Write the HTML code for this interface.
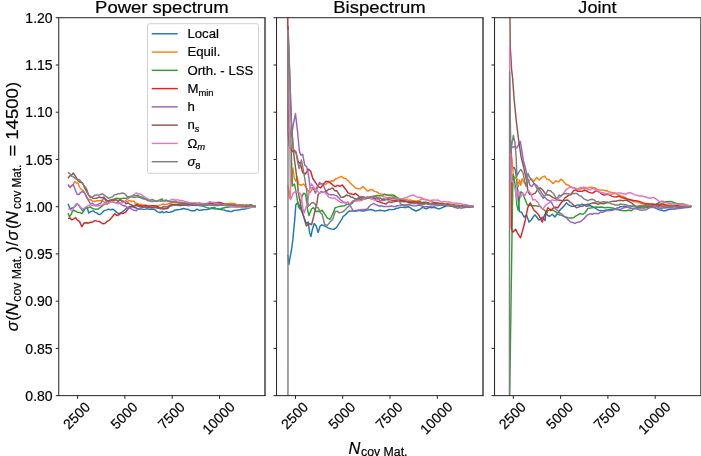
<!DOCTYPE html><html><head><meta charset="utf-8"><style>html,body{margin:0;padding:0;background:#fff;overflow:hidden}svg{display:block;will-change:transform}text{font-family:"Liberation Sans",sans-serif;fill:#000;stroke:#000;stroke-width:0.2px}.i{font-style:italic}</style></head><body>
<svg width="701" height="456" viewBox="0 0 701 456">
<rect width="701" height="456" fill="#fff"/>
<defs>
<clipPath id="c0"><rect x="58.75" y="17.73" width="206.25" height="377.91999999999996"/></clipPath>
<clipPath id="c1"><rect x="276.55" y="17.73" width="206.45" height="377.91999999999996"/></clipPath>
<clipPath id="c2"><rect x="494.55" y="17.73" width="206.45" height="377.91999999999996"/></clipPath>
</defs>
<g clip-path="url(#c0)" fill="none" stroke-width="1.45" stroke-linejoin="round" stroke-linecap="butt">
<path d="M67.98,203.75 L70.28,209.12 L71.82,208.17 L73.35,207.59 L75.27,206.04 L77.19,203.75 L78.98,205.90 L80.77,208.14 L82.56,210.66 L84.87,208.49 L87.17,207.59 L88.70,212.96 L91.01,211.67 L93.31,210.66 L95.04,212.33 L96.76,212.85 L98.49,214.19 L100.22,214.50 L102.14,212.73 L104.05,210.66 L106.36,210.13 L108.66,209.12 L110.71,209.74 L112.75,209.20 L114.80,210.66 L117.10,212.67 L119.41,213.73 L121.45,212.47 L123.50,210.92 L125.55,209.12 L127.59,207.49 L129.64,206.71 L131.69,206.82 L133.61,206.97 L135.53,207.75 L137.44,208.69 L139.36,209.12 L141.41,209.10 L143.46,209.36 L145.50,209.12 L147.42,208.85 L149.34,209.26 L151.26,209.29 L153.18,209.12 L155.23,209.88 L157.27,211.85 L159.32,212.20 L160.00,212.75 L162.39,211.43 L163.14,212.75 L164.71,212.37 L166.28,211.58 L167.85,212.39 L169.42,212.36 L170.98,211.76 L172.55,211.58 L174.12,210.55 L175.69,210.01 L177.65,209.70 L179.61,209.61 L181.58,208.99 L183.54,208.44 L185.50,209.01 L187.46,209.22 L189.42,210.07 L191.38,210.79 L192.95,210.68 L194.52,210.79 L196.88,209.22 L199.23,210.40 L201.94,209.96 L202.37,210.01 L204.72,209.60 L207.08,209.61 L207.93,209.21 L209.47,208.71 L211.00,208.44 L212.43,208.46 L214.30,208.92 L216.17,208.65 L218.04,209.08 L219.91,209.21 L221.91,209.80 L223.91,209.87 L225.91,210.71 L227.90,210.97 L229.90,211.50 L231.90,211.46 L233.89,210.50 L235.89,210.38 L237.89,209.96 L239.89,209.68 L241.88,209.27 L243.88,209.21 L245.88,208.82 L247.87,208.20 L249.87,207.71 L251.78,206.98 L253.69,207.09 L255.60,206.50" stroke="#1f77b4"/>
<path d="M67.98,184.56 L70.28,187.63 L72.58,185.05 L74.89,181.49 L76.42,182.94 L77.96,183.03 L79.49,187.11 L81.03,189.17 L83.33,190.70 L85.12,194.02 L86.91,196.92 L88.70,199.91 L90.75,199.57 L92.80,201.34 L94.84,201.45 L96.89,200.81 L98.94,200.65 L100.98,200.68 L103.03,201.19 L105.08,202.66 L107.12,204.52 L109.43,201.91 L111.73,199.91 L113.65,200.45 L115.57,198.40 L117.49,198.54 L119.41,199.15 L121.45,200.04 L123.50,201.44 L125.55,201.45 L127.59,201.74 L129.64,200.49 L131.69,201.45 L133.61,200.99 L135.53,203.16 L137.44,203.40 L139.36,204.52 L141.41,204.27 L143.46,205.47 L145.50,205.29 L147.42,205.95 L149.34,205.74 L151.26,205.96 L153.18,206.05 L155.10,205.92 L157.02,206.07 L158.94,205.37 L160.86,204.83 L163.00,204.00 L164.50,204.44 L166.00,204.50 L168.60,203.70 L170.20,203.54 L171.80,203.00 L173.75,202.24 L175.70,202.50 L178.00,203.00 L179.75,203.51 L181.50,203.53 L183.25,203.53 L185.00,203.50 L186.75,202.88 L188.50,203.18 L190.25,203.49 L192.00,203.20 L194.00,202.96 L196.00,203.56 L198.00,204.03 L200.00,204.00 L202.00,203.60 L204.00,204.16 L206.00,203.82 L208.00,203.60 L210.00,203.79 L212.00,204.12 L214.00,204.42 L216.00,204.50 L218.00,204.35 L220.00,204.41 L222.00,203.83 L224.00,203.80 L226.00,203.61 L228.00,203.83 L230.00,203.51 L232.00,203.40 L234.00,203.50 L236.00,204.21 L238.00,204.63 L240.00,204.60 L241.75,204.65 L243.50,204.59 L245.25,205.02 L247.00,205.20 L248.72,205.43 L250.44,205.65 L252.16,206.30 L253.88,206.01 L255.60,206.50" stroke="#ff7f0e"/>
<path d="M67.98,212.96 L69.51,216.80 L71.05,214.66 L72.58,210.66 L74.89,210.51 L77.19,212.20 L79.49,212.41 L81.79,213.73 L83.71,211.09 L85.63,207.59 L87.94,207.96 L90.24,206.82 L92.54,208.53 L94.84,209.12 L96.38,209.34 L97.91,209.12 L99.96,207.68 L102.01,206.15 L104.05,204.52 L106.10,203.33 L108.15,201.35 L110.20,199.91 L112.24,199.56 L114.29,199.21 L116.34,198.38 L118.38,198.38 L120.43,198.79 L122.48,198.38 L124.52,198.16 L126.57,198.39 L128.62,196.84 L130.46,196.70 L132.30,196.02 L134.14,195.74 L135.99,195.61 L137.83,195.31 L139.87,196.76 L141.92,197.20 L143.97,198.38 L146.02,199.06 L148.06,200.19 L150.11,199.91 L152.16,199.37 L154.20,200.48 L156.25,201.45 L158.12,200.72 L160.00,199.81 L162.35,199.02 L162.39,200.22 L164.33,200.36 L166.28,200.20 L167.85,201.07 L169.42,201.77 L170.98,201.43 L172.55,201.38 L174.12,201.79 L175.69,201.77 L177.26,202.25 L178.83,202.55 L181.18,202.59 L183.54,202.95 L185.89,204.01 L188.25,203.73 L190.60,204.02 L192.95,204.12 L195.31,204.58 L197.66,205.30 L200.01,205.67 L202.37,206.08 L204.72,206.82 L207.08,207.65 L208.64,208.03 L210.21,208.44 L212.43,207.71 L214.30,207.47 L216.17,208.35 L218.04,209.06 L219.91,209.21 L222.16,208.20 L224.41,207.71 L226.28,207.32 L228.15,207.18 L230.02,206.78 L231.90,206.21 L233.77,206.74 L235.64,206.20 L237.51,206.69 L239.39,206.96 L241.13,206.51 L242.88,206.35 L244.63,206.08 L246.38,204.86 L248.12,205.33 L249.87,204.71 L251.78,204.98 L253.69,206.06 L255.60,206.50" stroke="#2ca02c"/>
<path d="M67.98,218.34 L69.90,218.00 L71.82,219.87 L73.74,218.85 L75.65,217.57 L77.57,220.34 L79.49,221.41 L81.79,226.78 L84.10,222.94 L86.40,222.84 L88.70,222.94 L90.75,222.30 L92.80,221.92 L94.84,220.64 L97.15,221.11 L99.45,221.41 L100.98,222.50 L102.52,223.71 L104.82,223.48 L107.12,221.41 L109.43,220.10 L111.73,217.57 L113.27,215.48 L114.80,213.73 L117.10,215.63 L119.41,214.50 L121.45,213.12 L123.50,213.44 L125.55,212.20 L127.85,209.37 L130.15,206.82 L132.20,206.12 L134.25,205.63 L136.29,204.52 L138.34,205.13 L140.39,205.84 L142.43,206.05 L144.35,205.38 L146.27,205.40 L148.19,206.32 L150.11,206.05 L152.16,205.66 L154.20,205.64 L156.25,206.05 L158.12,206.67 L160.00,208.44 L162.35,208.83 L162.39,208.82 L163.94,209.09 L165.49,208.44 L167.85,208.44 L170.20,205.30 L172.16,205.35 L174.12,204.91 L176.48,205.18 L178.83,204.51 L181.18,204.24 L183.54,204.51 L185.89,204.71 L188.25,204.91 L190.60,204.42 L192.95,204.51 L195.31,204.90 L197.66,204.91 L200.01,205.07 L202.37,204.51 L204.72,204.12 L207.08,204.12 L207.93,203.22 L210.21,203.34 L212.07,203.25 L213.92,202.47 L215.92,202.69 L217.92,202.43 L219.91,202.47 L222.16,203.15 L224.41,204.71 L226.28,205.22 L228.15,205.07 L230.02,205.14 L231.90,205.46 L233.77,205.74 L235.64,205.93 L237.51,206.36 L239.39,206.21 L241.26,206.17 L243.13,206.84 L245.00,207.11 L246.88,206.96 L248.62,207.20 L250.37,206.74 L252.11,206.52 L253.86,206.82 L255.60,206.50" stroke="#d62728"/>
<path d="M67.98,184.56 L69.51,186.87 L71.43,185.80 L73.35,184.56 L75.27,189.64 L77.19,194.54 L78.98,194.52 L80.77,192.31 L82.56,191.47 L84.87,193.36 L87.17,198.38 L88.70,200.81 L90.24,203.75 L92.54,203.31 L94.84,205.29 L96.89,205.04 L98.94,203.95 L100.98,202.98 L102.52,199.92 L104.05,197.61 L105.59,200.29 L107.12,202.98 L109.43,202.70 L111.73,201.45 L113.65,201.88 L115.57,202.96 L117.49,202.57 L119.41,202.98 L121.45,204.56 L123.50,205.82 L125.55,206.05 L127.59,207.90 L129.64,207.76 L131.69,209.12 L133.99,210.32 L136.29,210.66 L138.34,208.76 L140.39,208.12 L142.43,207.59 L144.35,206.72 L146.27,208.06 L148.19,207.06 L150.11,207.59 L152.16,207.58 L154.20,207.51 L156.25,207.59 L158.55,208.19 L160.86,208.82 L163.00,206.50 L164.50,206.49 L166.00,206.90 L167.70,206.38 L169.40,205.70 L171.27,206.14 L173.13,205.38 L175.00,205.20 L176.75,205.32 L178.50,205.41 L180.25,204.99 L182.00,205.00 L184.00,204.79 L186.00,205.15 L188.00,205.74 L190.00,205.60 L192.00,205.08 L194.00,205.25 L196.00,205.54 L198.00,205.20 L200.00,205.33 L202.00,205.10 L204.00,205.23 L206.00,205.00 L208.00,205.19 L210.00,205.03 L212.00,205.10 L214.00,205.60 L216.00,205.38 L218.00,205.66 L220.00,205.25 L222.00,205.30 L224.00,205.27 L226.00,205.48 L228.00,205.48 L230.00,206.00 L232.00,206.12 L234.00,206.03 L236.00,206.53 L238.00,206.60 L240.00,205.97 L242.00,206.47 L244.00,206.16 L246.00,206.20 L247.92,205.82 L249.84,206.48 L251.76,206.32 L253.68,205.94 L255.60,206.50" stroke="#9467bd"/>
<path d="M67.98,178.42 L69.77,175.98 L71.56,175.05 L73.35,173.05 L75.65,176.56 L77.96,180.72 L80.26,182.42 L82.56,183.03 L84.61,187.63 L86.66,191.66 L88.70,195.31 L90.75,196.55 L92.80,198.22 L94.84,198.38 L97.15,198.03 L99.45,196.84 L101.50,197.89 L103.54,197.12 L105.59,199.15 L107.12,200.44 L108.66,200.68 L110.58,201.25 L112.50,200.13 L114.42,199.84 L116.34,199.91 L118.25,201.36 L120.17,199.73 L122.09,201.31 L124.01,201.45 L126.06,203.72 L128.11,203.02 L130.15,204.52 L132.07,205.24 L133.99,206.20 L135.91,205.61 L137.83,206.05 L139.87,206.57 L141.92,206.98 L143.97,206.82 L145.81,206.58 L147.65,207.09 L149.49,207.41 L151.34,207.78 L153.18,207.59 L155.10,207.65 L157.02,207.67 L158.94,207.43 L160.86,207.90 L162.87,207.93 L164.89,208.55 L166.90,208.40 L168.55,206.89 L170.20,205.30 L172.10,204.62 L174.00,204.50 L176.00,204.43 L178.00,204.90 L179.83,205.71 L181.67,205.24 L183.50,204.90 L185.67,204.88 L187.83,203.80 L190.00,204.30 L191.75,204.58 L193.50,204.67 L195.25,205.08 L197.00,204.80 L198.75,204.70 L200.50,204.38 L202.25,204.32 L204.00,204.00 L205.75,203.36 L207.50,203.83 L209.25,203.47 L211.00,203.20 L212.75,203.19 L214.50,203.80 L216.25,204.06 L218.00,203.80 L220.00,203.63 L222.00,203.95 L224.00,204.32 L226.00,204.40 L228.00,204.59 L230.00,204.61 L232.00,204.63 L234.00,205.00 L236.00,205.68 L238.00,205.63 L240.00,205.33 L242.00,205.80 L243.75,205.60 L245.50,206.38 L247.25,206.32 L249.00,206.20 L251.20,206.71 L253.40,206.58 L255.60,206.50" stroke="#8c564b"/>
<path d="M67.98,209.12 L69.90,209.25 L71.82,210.66 L73.61,208.55 L75.40,204.50 L77.19,203.75 L78.98,205.02 L80.77,207.29 L82.56,209.12 L84.87,207.95 L87.17,206.05 L89.47,205.19 L91.77,205.29 L93.82,205.46 L95.87,206.09 L97.91,206.05 L99.96,205.52 L102.01,204.91 L104.05,203.75 L105.97,203.30 L107.89,202.41 L109.81,202.48 L111.73,201.45 L113.78,202.24 L115.82,202.52 L117.87,203.75 L119.92,202.90 L121.96,202.73 L124.01,202.22 L126.06,200.37 L128.11,198.71 L130.15,196.84 L132.20,195.56 L134.25,194.37 L136.29,193.01 L138.34,193.71 L140.39,193.96 L142.43,195.31 L144.35,196.65 L146.27,198.07 L148.19,198.95 L150.11,199.91 L152.16,200.35 L154.20,201.12 L156.25,201.45 L158.30,200.97 L160.34,200.52 L162.39,201.14 L164.21,201.11 L166.03,200.70 L167.85,200.98 L169.81,200.45 L171.77,199.42 L173.73,199.45 L175.69,200.20 L177.65,199.58 L179.61,200.59 L181.58,200.48 L183.54,200.98 L185.11,201.82 L186.68,201.77 L188.25,202.45 L189.81,203.34 L191.38,202.79 L192.95,202.95 L194.52,202.76 L196.09,202.95 L197.66,202.87 L199.23,202.55 L200.80,203.25 L202.37,203.73 L203.94,203.97 L205.51,204.12 L207.47,203.25 L209.43,201.72 L210.21,201.77 L211.89,202.29 L213.57,202.49 L215.24,202.99 L216.92,203.22 L218.79,203.96 L220.66,204.18 L222.54,204.57 L224.41,204.71 L226.28,205.03 L228.15,205.80 L230.02,206.56 L231.90,206.96 L233.77,206.89 L235.64,207.20 L237.51,207.10 L239.39,206.96 L241.26,207.35 L243.13,207.29 L245.00,208.10 L246.88,207.71 L248.62,207.75 L250.37,207.18 L252.11,207.00 L253.86,207.33 L255.60,206.50" stroke="#e377c2"/>
<path d="M67.98,172.28 L69.77,173.56 L71.56,175.99 L73.35,176.89 L75.27,178.74 L77.19,179.19 L79.11,179.52 L81.03,181.49 L82.82,183.92 L84.61,186.34 L86.40,188.40 L88.32,193.76 L90.24,197.61 L92.54,196.97 L94.84,195.31 L96.76,194.94 L98.68,195.07 L100.60,194.49 L102.52,193.77 L104.57,195.43 L106.61,196.88 L108.66,198.38 L110.58,197.28 L112.50,196.85 L114.42,194.91 L116.34,194.54 L118.38,193.69 L120.43,193.52 L122.48,193.01 L124.52,193.78 L126.57,195.85 L128.62,197.61 L130.46,196.46 L132.30,196.97 L134.14,197.43 L135.99,197.27 L137.83,196.84 L139.87,197.59 L141.92,198.27 L143.97,199.15 L145.81,198.99 L147.65,200.85 L149.49,200.75 L151.34,201.44 L153.18,201.45 L155.15,200.97 L157.12,201.12 L159.09,200.37 L161.06,201.23 L163.03,201.15 L165.00,200.68 L166.67,200.28 L168.33,201.21 L170.00,201.50 L172.00,201.96 L174.00,201.43 L176.00,201.67 L178.00,202.50 L180.00,202.35 L182.00,202.67 L184.00,202.62 L186.00,203.20 L187.80,203.37 L189.60,203.59 L191.40,203.84 L193.20,204.01 L195.00,204.00 L197.00,204.48 L199.00,204.51 L201.00,204.08 L203.00,204.50 L204.75,204.41 L206.50,204.31 L208.25,204.33 L210.00,204.60 L212.00,204.68 L214.00,204.80 L216.00,205.01 L218.00,205.00 L220.00,204.69 L222.00,204.82 L224.00,205.14 L226.00,205.20 L228.00,205.11 L230.00,205.03 L232.00,205.04 L234.00,205.00 L235.75,204.98 L237.50,205.46 L239.25,205.53 L241.00,205.60 L242.75,205.68 L244.50,205.65 L246.25,205.86 L248.00,206.00 L249.90,205.51 L251.80,206.03 L253.70,206.38 L255.60,206.50" stroke="#7f7f7f"/>
</g>
<g clip-path="url(#c1)" fill="none" stroke-width="1.45" stroke-linejoin="round" stroke-linecap="butt">
<path d="M287.95,255.00 L288.90,264.50 L290.00,258.00 L291.50,250.00 L292.80,240.00 L294.70,220.00 L295.79,205.00 L297.76,202.37 L299.74,206.32 L301.71,211.58 L304.34,218.16 L306.32,223.42 L308.29,222.11 L309.61,232.63 L310.92,236.58 L312.24,230.00 L314.21,223.42 L316.18,226.05 L318.16,232.63 L320.13,226.05 L321.78,224.82 L323.42,225.39 L326.05,226.71 L328.03,227.81 L330.00,228.68 L331.97,229.10 L333.95,229.34 L336.58,227.37 L339.21,223.42 L341.54,219.50 L341.84,219.47 L343.07,216.43 L344.47,215.53 L346.14,214.12 L347.11,212.89 L348.93,211.29 L350.75,211.05 L352.28,210.93 L353.82,211.05 L356.12,210.52 L358.42,210.29 L360.72,210.88 L363.03,211.05 L364.56,210.93 L366.10,210.29 L368.40,209.89 L370.70,209.52 L373.00,209.94 L375.31,211.05 L377.61,210.61 L379.91,210.29 L382.21,210.65 L384.52,211.05 L386.82,210.54 L389.12,209.52 L391.43,209.61 L393.73,209.52 L396.03,208.53 L398.33,207.98 L400.38,207.33 L402.43,207.37 L404.47,207.21 L405.00,207.82 L406.67,207.06 L408.34,206.70 L410.01,207.54 L411.68,208.93 L413.90,210.02 L416.13,211.16 L417.80,210.21 L419.47,209.49 L421.13,208.40 L422.80,207.26 L424.47,208.21 L426.14,208.93 L427.81,208.00 L429.48,207.26 L431.70,207.78 L433.93,207.26 L436.16,208.02 L438.38,208.93 L440.61,208.34 L442.83,207.26 L445.06,206.45 L447.28,205.59 L449.14,205.84 L450.99,205.06 L452.85,205.59 L454.79,205.56 L456.74,205.93 L458.69,206.14 L460.63,206.15 L462.46,206.72 L464.28,206.32 L466.11,206.59 L467.93,206.52 L469.75,206.61 L471.58,206.56 L473.40,206.50" stroke="#1f77b4"/>
<path d="M287.95,185.00 L289.30,198.00 L291.50,180.00 L293.00,168.00 L294.26,178.45 L295.68,181.30 L297.11,177.03 L298.53,184.15 L301.05,185.26 L303.68,183.95 L306.32,187.89 L307.96,190.42 L309.61,193.16 L311.25,190.85 L312.89,187.89 L315.53,189.21 L318.16,185.26 L320.13,183.95 L322.11,183.95 L324.08,184.65 L326.05,183.95 L328.03,182.04 L330.00,181.32 L331.76,180.74 L333.51,181.06 L335.27,179.05 L337.03,178.45 L339.16,177.39 L341.30,176.31 L343.44,177.98 L345.58,178.45 L347.68,180.35 L349.98,182.67 L352.28,184.96 L353.82,186.11 L355.35,188.03 L357.65,188.53 L359.96,188.79 L361.49,187.90 L363.03,186.49 L365.33,189.10 L367.63,191.10 L369.93,190.01 L372.24,189.56 L374.54,191.40 L376.84,191.86 L379.14,193.64 L381.45,194.17 L383.75,194.56 L386.05,194.93 L388.36,195.41 L390.66,195.70 L392.96,196.33 L395.26,197.24 L397.31,198.43 L399.36,198.56 L401.40,199.54 L403.24,199.83 L405.07,199.60 L406.90,199.65 L408.73,200.12 L410.56,200.03 L412.42,200.72 L414.27,200.77 L416.13,201.14 L417.80,200.71 L419.47,200.58 L421.69,198.92 L423.36,199.38 L425.03,199.47 L427.25,200.02 L429.48,200.58 L431.70,201.49 L433.93,202.25 L436.16,202.87 L438.38,202.81 L440.24,203.25 L442.09,203.06 L443.94,203.37 L445.80,204.07 L447.65,203.74 L449.51,203.92 L451.36,204.47 L453.22,204.52 L455.07,205.04 L457.02,205.16 L458.97,204.92 L460.91,205.85 L462.86,205.59 L464.62,206.05 L466.37,205.62 L468.13,205.71 L469.89,205.83 L471.64,206.61 L473.40,206.50" stroke="#ff7f0e"/>
<path d="M287.95,110.00 L290.80,137.00 L291.50,160.00 L292.00,175.00 L292.40,186.00 L294.47,183.95 L295.79,190.53 L298.42,206.32 L299.74,208.95 L301.71,197.11 L303.68,193.16 L305.66,194.47 L307.63,210.26 L308.95,215.53 L311.58,208.95 L313.55,207.63 L316.18,211.58 L317.83,211.29 L319.47,211.58 L322.11,210.26 L324.74,214.21 L327.37,218.16 L330.00,219.47 L332.63,214.21 L335.26,207.63 L337.02,207.16 L338.77,206.59 L340.53,206.32 L342.57,205.93 L344.61,205.68 L346.91,204.36 L349.21,204.14 L350.75,203.77 L352.28,203.38 L353.82,201.16 L355.35,200.31 L357.40,200.02 L359.44,199.94 L361.49,199.54 L363.54,199.23 L365.58,198.42 L367.63,198.00 L369.17,197.25 L370.70,197.24 L373.00,196.53 L375.31,195.70 L377.61,195.52 L379.91,195.70 L382.21,195.50 L384.52,194.17 L386.82,194.82 L389.12,194.93 L391.04,194.90 L392.96,194.93 L394.88,195.94 L396.80,197.24 L399.10,198.56 L401.40,200.31 L403.46,200.44 L405.51,200.99 L407.57,201.55 L409.62,202.00 L411.68,202.25 L413.35,202.53 L415.01,203.02 L416.68,202.51 L418.35,202.81 L420.02,202.95 L421.69,203.72 L423.36,202.81 L425.03,203.37 L426.70,203.39 L428.37,203.68 L430.04,203.82 L431.70,203.92 L433.37,204.10 L435.04,204.04 L436.71,204.26 L438.38,204.26 L440.05,204.38 L441.72,204.65 L443.39,204.16 L445.06,204.70 L446.73,204.61 L448.40,204.92 L450.06,204.80 L451.73,205.15 L453.51,205.05 L455.29,205.56 L457.07,205.40 L458.85,205.82 L460.63,205.81 L462.46,206.08 L464.28,206.08 L466.11,206.22 L467.93,206.18 L469.75,205.99 L471.58,206.40 L473.40,206.50" stroke="#2ca02c"/>
<path d="M287.60,-40.00 L287.90,60.00 L287.95,130.00 L289.00,145.00 L291.00,150.00 L293.50,152.00 L295.70,151.40 L298.50,162.80 L300.00,162.80 L302.80,172.70 L305.00,174.20 L306.75,172.00 L308.50,169.20 L310.70,171.30 L312.80,178.50 L315.60,182.70 L318.20,186.60 L320.80,187.90 L323.40,184.00 L326.00,181.30 L328.00,181.64 L330.00,182.60 L331.77,183.88 L333.53,185.68 L335.30,186.60 L337.90,185.30 L340.00,186.49 L342.30,184.96 L344.61,188.03 L346.14,189.88 L347.68,192.63 L349.98,193.71 L352.28,194.17 L353.82,194.67 L355.35,193.40 L357.65,195.06 L359.96,197.24 L361.88,197.30 L363.79,197.17 L365.71,197.90 L367.63,197.24 L369.68,197.62 L371.73,198.11 L373.77,198.00 L375.31,199.27 L376.84,201.07 L379.14,201.84 L381.45,202.61 L383.75,203.37 L386.05,204.14 L387.59,202.39 L389.12,201.84 L391.43,202.31 L393.73,201.84 L396.03,201.35 L398.33,200.31 L400.38,200.05 L402.43,201.03 L404.47,201.07 L406.41,201.63 L408.34,202.25 L410.19,202.18 L412.05,201.97 L413.90,201.70 L415.76,201.91 L417.61,202.76 L419.47,203.37 L421.32,203.33 L423.17,202.50 L425.03,202.25 L426.88,202.58 L428.74,203.06 L430.59,203.92 L432.45,203.46 L434.30,203.63 L436.16,203.37 L438.01,204.12 L439.86,204.21 L441.72,204.48 L443.57,204.35 L445.43,204.61 L447.28,203.92 L449.14,204.36 L450.99,204.88 L452.85,205.59 L454.70,205.90 L456.55,206.09 L458.41,206.15 L460.08,206.06 L461.75,206.16 L463.42,206.63 L465.09,206.70 L467.16,206.71 L469.24,206.31 L471.32,206.51 L473.40,206.50" stroke="#d62728"/>
<path d="M291.00,137.00 L292.20,131.30 L293.80,122.00 L295.50,113.60 L297.50,131.30 L299.40,151.00 L300.80,155.00 L302.70,154.30 L304.70,165.00 L306.70,166.70 L308.50,175.40 L310.26,187.89 L312.89,187.89 L315.53,193.16 L318.16,185.26 L319.47,182.63 L321.45,183.62 L323.42,185.26 L326.05,191.84 L328.68,194.47 L330.66,194.74 L332.63,194.47 L334.61,195.07 L336.58,195.79 L338.55,197.72 L340.53,199.74 L343.07,201.84 L345.79,202.37 L347.68,202.61 L349.21,204.35 L350.75,206.45 L352.28,209.26 L353.82,211.05 L356.12,211.32 L358.42,210.29 L360.72,209.74 L363.03,209.52 L365.33,209.50 L367.63,208.75 L369.17,206.52 L370.70,204.91 L372.24,204.17 L373.77,203.38 L375.31,204.44 L376.84,204.91 L378.89,205.99 L380.94,205.79 L382.98,206.45 L385.03,206.42 L387.08,206.51 L389.12,206.45 L391.17,205.96 L393.22,206.45 L395.26,206.45 L397.31,205.73 L399.36,205.53 L401.40,204.91 L403.20,205.21 L405.00,206.15 L407.23,205.07 L409.45,205.04 L411.31,205.42 L413.16,205.84 L415.01,206.15 L417.24,205.47 L419.47,205.04 L421.69,206.07 L423.92,206.70 L426.14,206.64 L428.37,206.70 L430.59,206.29 L432.82,206.15 L434.67,206.07 L436.53,205.42 L438.38,205.59 L440.24,205.25 L442.09,205.22 L443.94,205.04 L445.80,205.41 L447.65,205.37 L449.51,205.59 L451.18,206.22 L452.85,206.56 L454.51,207.33 L456.18,207.82 L457.85,208.19 L459.52,207.66 L461.19,208.35 L462.86,207.82 L464.62,207.45 L466.37,207.38 L468.13,207.20 L469.89,207.17 L471.64,206.44 L473.40,206.50" stroke="#9467bd"/>
<path d="M288.10,26.00 L291.30,120.00 L292.00,128.00 L293.00,148.00 L294.50,160.00 L297.11,180.00 L298.42,193.16 L301.05,206.32 L303.68,216.84 L306.32,226.05 L308.95,223.42 L311.58,224.74 L314.21,214.21 L316.84,203.68 L318.16,194.47 L319.47,193.16 L321.23,191.45 L322.98,192.64 L324.74,191.84 L326.71,190.99 L328.68,189.21 L330.66,188.91 L332.63,187.89 L334.61,190.66 L336.58,190.53 L338.29,193.22 L340.00,195.70 L340.53,197.11 L343.07,197.24 L345.79,195.79 L346.14,194.93 L347.68,195.45 L349.21,195.70 L350.75,196.92 L352.28,197.24 L353.82,198.18 L355.35,198.77 L357.65,199.15 L359.96,198.00 L362.26,197.84 L364.56,198.77 L366.61,198.61 L368.65,197.34 L370.70,198.77 L372.75,198.84 L374.80,198.11 L376.84,198.00 L378.38,198.35 L379.91,198.00 L381.96,199.30 L384.01,199.03 L386.05,199.54 L388.10,199.71 L390.15,199.89 L392.19,200.31 L394.24,200.30 L396.29,200.63 L398.33,201.07 L400.38,201.52 L402.43,201.60 L404.47,201.84 L406.41,201.51 L408.34,201.14 L410.19,201.47 L412.05,202.11 L413.90,202.25 L415.76,202.18 L417.61,201.85 L419.47,201.70 L421.32,202.22 L423.17,202.41 L425.03,202.81 L426.88,202.74 L428.74,203.51 L430.59,203.37 L432.45,203.29 L434.30,202.78 L436.16,202.81 L438.01,203.42 L439.86,203.63 L441.72,203.92 L443.57,203.94 L445.43,205.03 L447.28,205.04 L449.14,205.48 L450.99,205.98 L452.85,206.15 L454.70,206.38 L456.55,206.49 L458.41,206.70 L460.08,206.30 L461.75,206.81 L463.42,206.54 L465.09,206.48 L467.16,206.42 L469.24,206.57 L471.32,206.51 L473.40,206.50" stroke="#8c564b"/>
<path d="M288.00,30.00 L289.60,125.00 L290.50,199.70 L291.84,197.11 L293.16,193.16 L295.13,191.84 L296.78,192.32 L298.42,191.84 L301.05,194.47 L303.03,208.95 L304.34,212.89 L306.32,206.32 L308.29,197.11 L310.26,186.58 L311.58,183.95 L314.21,187.89 L316.84,190.53 L319.47,193.16 L322.11,191.84 L324.74,192.50 L326.71,194.59 L328.68,197.11 L330.66,197.74 L332.63,198.42 L334.61,197.90 L336.58,199.74 L338.55,200.83 L340.53,202.37 L342.57,202.84 L344.61,202.61 L345.79,203.68 L347.68,201.84 L349.21,203.27 L350.75,203.38 L352.28,201.07 L354.58,200.90 L356.89,201.07 L358.93,200.51 L360.98,200.76 L363.03,199.54 L365.33,197.86 L367.63,196.47 L369.93,197.92 L372.24,198.77 L374.54,200.20 L376.84,200.31 L379.14,198.02 L381.45,195.70 L383.75,196.91 L386.05,197.24 L388.36,197.38 L390.66,198.00 L392.96,198.07 L395.26,198.00 L397.31,198.24 L399.36,198.55 L401.40,198.77 L403.20,198.60 L405.00,197.80 L406.67,197.88 L408.34,196.69 L410.56,195.69 L412.79,195.02 L414.46,195.72 L416.13,196.69 L417.98,197.17 L419.84,197.19 L421.69,197.80 L423.36,198.75 L425.03,199.47 L427.25,200.16 L429.48,200.58 L431.70,200.24 L433.93,200.03 L435.60,200.15 L437.27,200.03 L438.94,200.51 L440.61,201.70 L442.46,201.87 L444.32,201.35 L446.17,201.70 L448.02,201.91 L449.88,202.31 L451.73,202.81 L453.40,202.86 L455.07,203.28 L456.74,203.25 L458.41,203.37 L460.08,203.56 L461.75,204.05 L463.42,204.56 L465.09,204.48 L467.16,204.99 L469.24,205.57 L471.32,206.27 L473.40,206.50" stroke="#e377c2"/>
<path d="M287.95,700.00 L288.00,30.00 L291.60,128.70 L293.50,149.70 L295.00,150.70 L296.40,154.20 L297.80,162.80 L299.20,168.50 L301.40,159.90 L302.80,167.00 L305.00,179.90 L306.32,187.89 L308.29,206.32 L309.93,204.85 L311.58,203.03 L313.22,202.54 L314.87,203.68 L316.51,207.21 L318.16,207.63 L320.13,212.27 L322.11,214.21 L324.74,224.74 L327.37,225.39 L330.00,222.11 L332.63,219.47 L335.26,211.58 L337.24,211.16 L339.21,212.89 L341.14,212.34 L343.07,211.82 L343.16,211.58 L344.65,210.38 L346.14,208.75 L347.11,207.63 L349.21,205.68 L350.75,204.23 L352.28,201.84 L353.82,201.01 L355.35,199.54 L357.40,198.39 L359.44,197.01 L361.49,196.47 L363.03,196.90 L364.56,197.24 L366.10,198.06 L367.63,198.00 L369.68,197.04 L371.73,196.57 L373.77,196.47 L375.31,196.84 L376.84,197.24 L378.38,198.42 L379.91,201.07 L382.21,200.60 L384.52,200.31 L386.82,199.01 L389.12,198.00 L391.43,198.15 L393.73,198.00 L396.03,198.94 L398.33,200.31 L399.87,202.35 L401.40,204.91 L403.71,204.80 L406.01,204.91 L407.73,204.40 L409.45,203.92 L411.12,203.62 L412.79,203.65 L414.46,203.68 L416.13,203.37 L417.80,203.91 L419.47,204.31 L421.13,204.02 L422.80,204.48 L424.47,204.25 L426.14,203.64 L427.81,204.49 L429.48,203.92 L431.15,203.90 L432.82,204.19 L434.49,204.46 L436.16,204.48 L437.82,204.23 L439.49,204.69 L441.16,204.64 L442.83,204.70 L444.50,204.46 L446.17,205.10 L447.84,205.47 L449.51,205.37 L451.18,205.06 L452.85,205.77 L454.51,205.75 L456.18,205.81 L457.96,206.01 L459.74,206.09 L461.52,206.37 L463.31,206.12 L465.09,206.26 L467.16,206.52 L469.24,206.29 L471.32,206.60 L473.40,206.50" stroke="#7f7f7f"/>
</g>
<g clip-path="url(#c2)" fill="none" stroke-width="1.45" stroke-linejoin="round" stroke-linecap="butt">
<path d="M509.80,135.00 L512.00,165.00 L512.90,168.20 L514.21,167.50 L515.53,170.79 L516.84,181.32 L518.16,197.11 L519.47,211.58 L521.74,212.46 L524.15,217.29 L526.57,214.88 L528.99,222.13 L531.40,219.71 L533.21,216.78 L535.02,214.88 L536.84,217.23 L538.65,219.71 L540.46,219.54 L542.27,217.29 L545.00,220.61 L545.89,212.46 L547.14,214.91 L549.28,216.34 L550.70,215.52 L552.13,214.20 L553.56,215.54 L554.98,217.05 L556.41,214.65 L557.83,213.48 L559.26,210.93 L560.69,209.21 L562.11,207.88 L563.54,206.35 L564.96,205.05 L566.39,202.79 L568.17,204.42 L569.96,205.64 L571.74,206.25 L573.52,206.35 L575.66,205.62 L577.80,204.93 L579.94,205.17 L582.08,204.22 L584.22,205.12 L586.35,206.35 L588.49,205.77 L590.63,205.64 L592.77,207.06 L594.91,207.78 L597.05,209.23 L599.19,210.63 L601.33,210.53 L603.47,210.63 L605.61,210.08 L607.75,209.92 L609.65,209.60 L611.55,209.64 L613.45,209.21 L615.35,208.84 L617.25,207.90 L619.15,207.78 L620.00,206.82 L622.28,206.65 L624.56,206.25 L626.85,206.86 L629.13,207.39 L631.41,206.58 L633.69,206.25 L635.98,206.99 L638.26,207.39 L640.54,207.04 L642.82,206.82 L644.54,206.60 L646.25,206.71 L647.96,206.69 L649.67,206.25 L651.95,206.66 L654.24,207.39 L656.52,208.63 L658.80,209.67 L661.08,210.05 L663.37,210.81 L665.65,210.76 L667.93,209.67 L670.21,209.28 L672.50,209.10 L674.78,209.08 L677.06,208.53 L679.34,207.81 L681.63,207.39 L683.91,207.57 L686.19,207.39 L687.89,207.59 L689.60,206.22 L691.30,206.50" stroke="#1f77b4"/>
<path d="M509.80,140.00 L513.50,176.00 L514.90,177.40 L516.84,178.68 L518.16,186.58 L519.47,180.00 L520.79,185.26 L522.11,178.68 L523.42,181.32 L526.05,185.26 L528.68,181.32 L531.32,178.68 L533.95,181.32 L536.58,177.37 L539.21,180.00 L541.84,177.37 L544.47,176.05 L547.11,179.34 L549.28,179.97 L551.06,181.51 L552.84,183.54 L554.27,182.39 L555.70,180.69 L557.12,181.35 L558.55,182.11 L560.69,179.26 L562.11,179.99 L563.54,181.40 L565.68,184.26 L567.82,184.96 L569.96,186.43 L572.09,187.82 L574.23,187.76 L576.37,189.24 L578.27,189.15 L580.18,187.53 L582.08,187.82 L584.22,188.66 L586.35,188.53 L588.49,187.58 L590.63,187.10 L592.77,187.52 L594.91,187.82 L597.05,189.36 L599.19,189.96 L601.09,190.24 L602.99,189.94 L604.89,190.67 L606.79,190.57 L608.70,192.01 L610.60,192.09 L612.50,192.80 L614.40,192.80 L616.30,193.52 L618.15,194.71 L620.00,195.41 L620.58,195.66 L622.57,196.53 L624.56,197.12 L626.85,198.71 L629.13,199.97 L631.41,200.29 L633.69,201.68 L635.98,201.90 L638.26,202.25 L640.54,203.31 L642.82,203.97 L644.54,204.27 L646.25,204.45 L647.96,203.84 L649.67,204.54 L651.95,204.57 L654.24,204.54 L656.14,204.84 L658.04,205.49 L659.94,205.11 L661.84,204.89 L663.75,205.03 L665.65,205.11 L667.55,205.31 L669.45,205.69 L671.36,205.68 L673.26,205.77 L675.16,206.32 L677.06,206.25 L679.10,206.11 L681.13,206.38 L683.16,206.24 L685.20,206.43 L687.23,206.27 L689.27,206.10 L691.30,206.50" stroke="#ff7f0e"/>
<path d="M509.30,420.00 L512.90,174.70 L514.21,178.68 L515.53,187.89 L516.84,205.00 L518.16,210.26 L519.47,198.42 L520.79,191.84 L522.76,193.16 L524.74,198.42 L527.37,205.00 L530.00,205.00 L532.63,205.66 L535.26,205.66 L537.89,206.32 L540.53,206.32 L542.50,208.94 L544.47,210.26 L547.11,212.89 L547.85,210.63 L549.28,210.09 L550.70,209.21 L552.13,209.61 L553.56,210.63 L554.98,211.46 L556.41,212.06 L557.83,214.01 L559.26,214.91 L561.40,215.12 L563.54,216.34 L565.68,216.99 L567.82,217.76 L569.72,218.02 L571.62,218.01 L573.52,217.76 L575.66,216.18 L577.80,214.91 L579.94,213.62 L582.08,214.20 L583.50,214.02 L584.93,212.77 L586.35,210.77 L587.78,208.49 L589.92,208.14 L592.06,207.78 L594.20,207.32 L596.34,207.07 L598.48,207.17 L600.61,207.07 L602.75,207.27 L604.89,207.78 L606.79,207.44 L608.70,207.54 L610.60,207.78 L612.50,208.07 L614.40,208.54 L616.30,209.21 L618.15,209.39 L620.00,210.24 L622.01,210.63 L624.56,210.81 L626.28,210.69 L627.99,210.24 L629.70,210.21 L631.41,210.81 L633.69,208.53 L635.41,208.39 L637.12,207.96 L639.02,207.73 L640.92,208.04 L642.82,207.96 L644.73,208.08 L646.63,207.63 L648.53,207.39 L650.43,206.46 L652.33,205.88 L654.24,205.11 L655.95,204.28 L657.66,203.40 L659.94,201.68 L661.84,201.29 L663.75,201.55 L665.65,201.68 L667.55,201.72 L669.45,201.58 L671.36,201.68 L673.26,202.27 L675.16,202.99 L677.06,203.40 L678.96,203.76 L680.87,203.98 L682.77,203.97 L685.05,204.54 L687.13,205.32 L689.22,205.78 L691.30,206.50" stroke="#2ca02c"/>
<path d="M509.80,135.00 L511.00,150.00 L511.30,228.00 L512.50,232.00 L513.29,231.79 L515.70,229.37 L518.12,234.20 L520.53,237.83 L522.95,229.37 L525.36,219.71 L527.78,207.63 L530.19,202.80 L532.00,206.41 L533.82,210.05 L535.43,211.49 L537.04,213.08 L538.65,214.88 L540.46,218.39 L542.27,222.13 L544.08,216.28 L545.89,212.46 L547.85,207.78 L549.28,209.02 L550.70,210.63 L552.13,209.19 L553.56,207.78 L555.70,207.25 L557.83,207.78 L559.26,205.63 L560.69,203.50 L562.83,200.91 L564.96,197.80 L567.10,196.29 L569.24,194.95 L571.38,193.80 L573.52,190.67 L575.66,189.82 L577.80,191.38 L579.94,191.29 L582.08,191.38 L584.22,190.25 L586.35,190.67 L588.49,192.14 L590.63,192.81 L592.77,193.14 L594.91,191.38 L597.05,190.80 L599.19,192.09 L601.33,193.57 L603.47,194.95 L605.61,194.77 L607.75,194.23 L609.88,195.20 L612.02,196.37 L614.16,196.90 L616.30,197.09 L618.15,196.16 L620.00,196.55 L622.01,197.80 L624.56,198.26 L626.85,199.05 L629.13,199.40 L631.41,200.06 L633.69,200.54 L635.98,200.83 L638.26,201.11 L640.54,201.84 L642.82,202.82 L645.11,203.54 L647.39,203.97 L649.67,203.86 L651.95,203.97 L654.24,204.30 L656.52,204.54 L658.80,204.14 L661.08,203.97 L663.37,204.03 L665.65,205.11 L667.55,205.10 L669.45,205.15 L671.36,205.11 L673.26,205.47 L675.16,205.29 L677.06,205.68 L678.77,205.81 L680.49,206.10 L682.20,206.14 L683.91,206.25 L685.76,206.59 L687.60,206.82 L689.45,206.23 L691.30,206.50" stroke="#d62728"/>
<path d="M510.60,146.00 L512.70,147.50 L514.50,146.50 L516.50,148.00 L518.50,145.00 L520.30,141.40 L521.90,150.60 L523.40,161.30 L524.08,162.89 L526.05,170.79 L527.37,177.37 L530.00,185.26 L531.97,186.58 L533.95,183.29 L536.58,185.26 L539.21,189.21 L541.84,193.16 L544.47,197.11 L547.11,199.74 L549.28,200.65 L551.42,202.43 L553.56,206.35 L555.70,208.96 L557.83,210.63 L559.97,213.22 L562.11,214.20 L564.25,216.45 L566.39,217.76 L568.53,220.30 L570.67,222.04 L572.81,222.46 L574.95,223.47 L577.09,222.43 L579.22,222.04 L581.36,221.00 L583.50,219.19 L585.64,216.67 L587.78,214.91 L589.92,213.82 L592.06,214.20 L594.20,213.46 L596.34,213.48 L598.48,213.69 L600.61,212.06 L602.75,212.38 L604.89,211.35 L606.79,210.88 L608.70,210.63 L610.60,210.63 L612.50,210.23 L614.40,209.45 L616.30,209.21 L618.15,209.82 L620.00,209.67 L621.71,208.79 L623.42,207.96 L625.71,207.39 L627.99,207.39 L630.27,208.28 L632.55,208.53 L634.84,208.68 L637.12,209.10 L639.40,209.72 L641.68,210.24 L643.97,209.95 L646.25,209.67 L648.53,208.46 L650.81,207.39 L652.72,207.65 L654.62,207.61 L656.52,207.96 L658.80,207.83 L661.08,208.53 L663.37,207.75 L665.65,207.96 L667.55,207.68 L669.45,207.79 L671.36,207.96 L673.26,208.15 L675.16,208.35 L677.06,208.53 L678.96,208.47 L680.87,208.18 L682.77,207.96 L684.90,207.42 L687.03,207.07 L689.17,206.39 L691.30,206.50" stroke="#9467bd"/>
<path d="M509.60,-30.00 L510.20,46.00 L510.90,56.50 L511.60,69.60 L512.50,77.00 L514.20,100.00 L516.50,123.00 L518.80,141.40 L521.10,156.70 L523.60,167.00 L525.16,174.05 L526.71,181.32 L528.03,191.84 L530.00,194.47 L532.63,194.47 L535.26,193.16 L537.89,189.21 L540.53,187.89 L543.16,190.53 L545.79,194.47 L547.53,194.99 L549.28,194.95 L551.42,196.67 L553.56,197.80 L555.70,198.80 L557.83,199.94 L559.97,200.20 L562.11,200.65 L564.01,200.89 L565.92,200.18 L567.82,199.94 L569.96,202.08 L572.09,203.50 L574.23,205.91 L576.37,207.78 L578.51,207.16 L580.65,206.35 L582.79,206.21 L584.93,204.93 L587.07,204.33 L589.21,204.22 L591.35,203.36 L593.48,202.79 L595.62,203.19 L597.76,204.22 L599.90,203.57 L602.04,203.50 L604.18,203.69 L606.32,202.79 L608.22,202.90 L610.12,201.85 L612.02,201.36 L613.92,201.30 L615.83,201.24 L617.73,200.65 L620.00,200.31 L621.71,200.59 L623.42,200.75 L625.14,200.15 L626.85,200.54 L629.13,201.52 L631.41,202.82 L633.12,204.36 L634.84,205.68 L637.12,206.82 L638.83,206.57 L640.54,205.68 L642.82,205.99 L645.11,206.25 L646.82,205.91 L648.53,205.88 L650.24,205.67 L651.95,205.68 L653.86,205.48 L655.76,206.02 L657.66,205.68 L659.56,205.73 L661.46,206.06 L663.37,206.25 L665.27,206.92 L667.17,206.90 L669.07,206.82 L670.97,206.89 L672.88,206.68 L674.78,206.82 L676.68,206.91 L678.58,207.18 L680.49,206.82 L682.29,206.91 L684.09,207.00 L685.89,206.68 L687.70,206.72 L689.50,206.51 L691.30,206.50" stroke="#8c564b"/>
<path d="M509.60,46.00 L509.70,72.00 L510.50,150.00 L511.60,181.30 L512.89,181.32 L514.87,187.89 L516.84,199.74 L518.16,190.53 L519.47,193.16 L520.79,197.11 L522.76,193.16 L524.74,195.79 L526.71,191.84 L528.68,190.53 L531.32,194.47 L532.63,199.74 L535.26,199.74 L537.89,202.37 L540.53,207.63 L543.16,208.95 L545.79,205.00 L547.43,203.80 L549.07,202.84 L550.70,200.65 L552.61,199.86 L554.51,200.62 L556.41,200.65 L557.83,199.35 L559.26,197.80 L561.40,195.36 L563.54,193.52 L564.96,191.23 L566.39,189.24 L568.53,188.20 L570.67,186.39 L572.81,188.05 L574.95,187.82 L577.09,189.17 L579.22,189.96 L581.36,188.67 L583.50,187.10 L585.64,187.52 L587.78,189.24 L589.68,189.79 L591.58,188.80 L593.48,188.53 L595.39,189.70 L597.29,190.49 L599.19,192.09 L601.09,192.55 L602.99,192.66 L604.89,193.52 L606.79,193.78 L608.70,194.15 L610.60,194.23 L612.50,194.01 L614.40,193.84 L616.30,193.52 L618.15,193.07 L620.00,193.12 L620.58,192.81 L622.29,193.69 L624.00,193.60 L625.71,194.27 L627.99,192.95 L630.27,192.55 L632.55,193.65 L634.84,194.84 L637.12,195.23 L639.40,195.98 L641.68,196.04 L643.97,196.55 L645.87,197.04 L647.77,197.75 L649.67,198.26 L651.95,197.71 L654.24,197.69 L656.52,199.37 L658.80,201.11 L660.70,201.81 L662.61,202.03 L664.51,202.25 L666.79,202.79 L669.07,203.40 L670.97,203.61 L672.88,203.75 L674.78,203.97 L676.68,204.15 L678.58,204.51 L680.49,204.54 L682.39,204.71 L684.29,204.38 L686.19,205.11 L687.89,205.57 L689.60,205.84 L691.30,206.50" stroke="#e377c2"/>
<path d="M509.30,700.00 L509.60,72.00 L510.80,152.00 L512.20,142.00 L513.40,135.30 L515.00,143.00 L516.20,158.00 L516.84,176.05 L518.82,172.11 L520.79,169.47 L522.76,172.11 L524.74,181.32 L526.05,186.58 L528.03,173.42 L530.00,178.03 L532.63,181.32 L535.26,185.26 L537.89,190.53 L540.53,194.47 L543.16,198.42 L545.79,194.47 L547.85,189.96 L548.42,190.53 L550.70,190.67 L552.13,192.46 L553.56,193.52 L554.98,196.04 L556.41,199.22 L557.83,197.16 L559.26,194.95 L560.69,196.08 L562.11,194.95 L564.25,193.70 L566.39,193.52 L568.53,193.68 L570.67,194.95 L572.81,193.57 L574.95,193.52 L577.09,193.50 L579.22,195.66 L581.36,196.26 L583.50,198.51 L585.64,199.73 L587.78,200.65 L589.92,199.68 L592.06,199.22 L594.20,199.93 L596.34,202.08 L598.24,201.53 L600.14,202.30 L602.04,202.08 L603.94,201.81 L605.84,201.95 L607.75,202.08 L609.65,202.90 L611.55,203.93 L613.45,204.22 L615.35,205.04 L617.25,205.00 L619.15,204.93 L620.00,203.97 L622.28,204.29 L624.56,204.54 L626.47,204.96 L628.37,205.75 L630.27,205.68 L632.17,206.20 L634.08,205.99 L635.98,206.25 L638.26,206.07 L640.54,205.68 L642.44,205.74 L644.35,205.69 L646.25,205.68 L648.15,205.57 L650.05,205.38 L651.95,205.68 L653.86,205.75 L655.76,205.71 L657.66,206.25 L659.56,206.71 L661.46,206.75 L663.37,206.82 L665.27,206.36 L667.17,206.75 L669.07,206.25 L670.97,206.45 L672.88,205.82 L674.78,206.25 L676.68,206.85 L678.58,206.81 L680.49,206.82 L682.29,207.23 L684.09,206.44 L685.89,206.78 L687.70,206.70 L689.50,206.60 L691.30,206.50" stroke="#7f7f7f"/>
</g>
<line x1="58.25" y1="17.73" x2="265.65" y2="17.73" stroke="#222222" stroke-width="1"/>
<line x1="58.25" y1="395.65" x2="265.65" y2="395.65" stroke="#222222" stroke-width="1"/>
<line x1="58.75" y1="17.73" x2="58.75" y2="395.65" stroke="#222222" stroke-width="1"/>
<line x1="265.0" y1="17.73" x2="265.0" y2="395.65" stroke="#222222" stroke-width="1.3"/>
<line x1="55.75" y1="395.65" x2="58.75" y2="395.65" stroke="#222222" stroke-width="1.0"/>
<line x1="55.75" y1="348.41" x2="58.75" y2="348.41" stroke="#222222" stroke-width="1.0"/>
<line x1="55.75" y1="301.17" x2="58.75" y2="301.17" stroke="#222222" stroke-width="1.0"/>
<line x1="55.75" y1="253.93" x2="58.75" y2="253.93" stroke="#222222" stroke-width="1.0"/>
<line x1="55.75" y1="206.69" x2="58.75" y2="206.69" stroke="#222222" stroke-width="1.0"/>
<line x1="55.75" y1="159.45" x2="58.75" y2="159.45" stroke="#222222" stroke-width="1.0"/>
<line x1="55.75" y1="112.21" x2="58.75" y2="112.21" stroke="#222222" stroke-width="1.0"/>
<line x1="55.75" y1="64.97" x2="58.75" y2="64.97" stroke="#222222" stroke-width="1.0"/>
<line x1="55.75" y1="17.73" x2="58.75" y2="17.73" stroke="#222222" stroke-width="1.0"/>
<line x1="77.6" y1="395.65" x2="77.6" y2="398.84999999999997" stroke="#222222" stroke-width="1.0"/>
<line x1="124.9" y1="395.65" x2="124.9" y2="398.84999999999997" stroke="#222222" stroke-width="1.0"/>
<line x1="172.2" y1="395.65" x2="172.2" y2="398.84999999999997" stroke="#222222" stroke-width="1.0"/>
<line x1="219.5" y1="395.65" x2="219.5" y2="398.84999999999997" stroke="#222222" stroke-width="1.0"/>
<line x1="276.05" y1="17.73" x2="483.65" y2="17.73" stroke="#222222" stroke-width="1"/>
<line x1="276.05" y1="395.65" x2="483.65" y2="395.65" stroke="#222222" stroke-width="1"/>
<line x1="276.55" y1="17.73" x2="276.55" y2="395.65" stroke="#222222" stroke-width="1"/>
<line x1="483.0" y1="17.73" x2="483.0" y2="395.65" stroke="#222222" stroke-width="1.3"/>
<line x1="273.55" y1="395.65" x2="276.55" y2="395.65" stroke="#222222" stroke-width="1.0"/>
<line x1="273.55" y1="348.41" x2="276.55" y2="348.41" stroke="#222222" stroke-width="1.0"/>
<line x1="273.55" y1="301.17" x2="276.55" y2="301.17" stroke="#222222" stroke-width="1.0"/>
<line x1="273.55" y1="253.93" x2="276.55" y2="253.93" stroke="#222222" stroke-width="1.0"/>
<line x1="273.55" y1="206.69" x2="276.55" y2="206.69" stroke="#222222" stroke-width="1.0"/>
<line x1="273.55" y1="159.45" x2="276.55" y2="159.45" stroke="#222222" stroke-width="1.0"/>
<line x1="273.55" y1="112.21" x2="276.55" y2="112.21" stroke="#222222" stroke-width="1.0"/>
<line x1="273.55" y1="64.97" x2="276.55" y2="64.97" stroke="#222222" stroke-width="1.0"/>
<line x1="273.55" y1="17.73" x2="276.55" y2="17.73" stroke="#222222" stroke-width="1.0"/>
<line x1="295.5" y1="395.65" x2="295.5" y2="398.84999999999997" stroke="#222222" stroke-width="1.0"/>
<line x1="342.7" y1="395.65" x2="342.7" y2="398.84999999999997" stroke="#222222" stroke-width="1.0"/>
<line x1="390.0" y1="395.65" x2="390.0" y2="398.84999999999997" stroke="#222222" stroke-width="1.0"/>
<line x1="437.3" y1="395.65" x2="437.3" y2="398.84999999999997" stroke="#222222" stroke-width="1.0"/>
<line x1="494.05" y1="17.73" x2="701.65" y2="17.73" stroke="#222222" stroke-width="1"/>
<line x1="494.05" y1="395.65" x2="701.65" y2="395.65" stroke="#222222" stroke-width="1"/>
<line x1="494.55" y1="17.73" x2="494.55" y2="395.65" stroke="#222222" stroke-width="1"/>
<line x1="701.0" y1="17.73" x2="701.0" y2="395.65" stroke="#222222" stroke-width="1.3"/>
<line x1="491.55" y1="395.65" x2="494.55" y2="395.65" stroke="#222222" stroke-width="1.0"/>
<line x1="491.55" y1="348.41" x2="494.55" y2="348.41" stroke="#222222" stroke-width="1.0"/>
<line x1="491.55" y1="301.17" x2="494.55" y2="301.17" stroke="#222222" stroke-width="1.0"/>
<line x1="491.55" y1="253.93" x2="494.55" y2="253.93" stroke="#222222" stroke-width="1.0"/>
<line x1="491.55" y1="206.69" x2="494.55" y2="206.69" stroke="#222222" stroke-width="1.0"/>
<line x1="491.55" y1="159.45" x2="494.55" y2="159.45" stroke="#222222" stroke-width="1.0"/>
<line x1="491.55" y1="112.21" x2="494.55" y2="112.21" stroke="#222222" stroke-width="1.0"/>
<line x1="491.55" y1="64.97" x2="494.55" y2="64.97" stroke="#222222" stroke-width="1.0"/>
<line x1="491.55" y1="17.73" x2="494.55" y2="17.73" stroke="#222222" stroke-width="1.0"/>
<line x1="513.3" y1="395.65" x2="513.3" y2="398.84999999999997" stroke="#222222" stroke-width="1.0"/>
<line x1="560.6" y1="395.65" x2="560.6" y2="398.84999999999997" stroke="#222222" stroke-width="1.0"/>
<line x1="607.9" y1="395.65" x2="607.9" y2="398.84999999999997" stroke="#222222" stroke-width="1.0"/>
<line x1="655.2" y1="395.65" x2="655.2" y2="398.84999999999997" stroke="#222222" stroke-width="1.0"/>
<text x="52.6" y="400.85" font-size="14.0" text-anchor="end">0.80</text>
<text x="52.6" y="353.61" font-size="14.0" text-anchor="end">0.85</text>
<text x="52.6" y="306.37" font-size="14.0" text-anchor="end">0.90</text>
<text x="52.6" y="259.13" font-size="14.0" text-anchor="end">0.95</text>
<text x="52.6" y="211.89" font-size="14.0" text-anchor="end">1.00</text>
<text x="52.6" y="164.65" font-size="14.0" text-anchor="end">1.05</text>
<text x="52.6" y="117.41" font-size="14.0" text-anchor="end">1.10</text>
<text x="52.6" y="70.17" font-size="14.0" text-anchor="end">1.15</text>
<text x="52.6" y="22.93" font-size="14.0" text-anchor="end">1.20</text>
<text x="0" y="0" font-size="14.0" text-anchor="middle" transform="translate(76.70,415.70) rotate(-45) translate(0,4.8)">2500</text>
<text x="0" y="0" font-size="14.0" text-anchor="middle" transform="translate(124.00,415.70) rotate(-45) translate(0,4.8)">5000</text>
<text x="0" y="0" font-size="14.0" text-anchor="middle" transform="translate(171.30,415.70) rotate(-45) translate(0,4.8)">7500</text>
<text x="0" y="0" font-size="14.0" text-anchor="middle" transform="translate(218.60,418.00) rotate(-45) translate(0,4.8)">10000</text>
<text x="0" y="0" font-size="14.0" text-anchor="middle" transform="translate(294.60,415.70) rotate(-45) translate(0,4.8)">2500</text>
<text x="0" y="0" font-size="14.0" text-anchor="middle" transform="translate(341.80,415.70) rotate(-45) translate(0,4.8)">5000</text>
<text x="0" y="0" font-size="14.0" text-anchor="middle" transform="translate(389.10,415.70) rotate(-45) translate(0,4.8)">7500</text>
<text x="0" y="0" font-size="14.0" text-anchor="middle" transform="translate(436.40,418.00) rotate(-45) translate(0,4.8)">10000</text>
<text x="0" y="0" font-size="14.0" text-anchor="middle" transform="translate(512.40,415.70) rotate(-45) translate(0,4.8)">2500</text>
<text x="0" y="0" font-size="14.0" text-anchor="middle" transform="translate(559.70,415.70) rotate(-45) translate(0,4.8)">5000</text>
<text x="0" y="0" font-size="14.0" text-anchor="middle" transform="translate(607.00,415.70) rotate(-45) translate(0,4.8)">7500</text>
<text x="0" y="0" font-size="14.0" text-anchor="middle" transform="translate(654.30,418.00) rotate(-45) translate(0,4.8)">10000</text>
<text x="161.85" y="12.8" font-size="17.0" text-anchor="middle" textLength="133.5" lengthAdjust="spacingAndGlyphs">Power spectrum</text>
<text x="379.5" y="12.8" font-size="17.0" text-anchor="middle" textLength="92.6" lengthAdjust="spacingAndGlyphs">Bispectrum</text>
<text x="597.45" y="12.8" font-size="17.0" text-anchor="middle" textLength="38.2" lengthAdjust="spacingAndGlyphs">Joint</text>
<rect x="147.5" y="23.7" width="111.0" height="149.6" rx="2" ry="2" fill="#fff" fill-opacity="0.8" stroke="#d0d0d0" stroke-width="1"/>
<line x1="151.7" y1="33.80" x2="177.8" y2="33.80" stroke="#1f77b4" stroke-width="1.45"/>
<text x="187.4" y="38.10" font-size="13.2"><tspan>Local</tspan></text>
<line x1="151.7" y1="52.07" x2="177.8" y2="52.07" stroke="#ff7f0e" stroke-width="1.45"/>
<text x="187.4" y="56.37" font-size="13.2"><tspan>Equil.</tspan></text>
<line x1="151.7" y1="70.34" x2="177.8" y2="70.34" stroke="#2ca02c" stroke-width="1.45"/>
<text x="187.4" y="74.64" font-size="13.2"><tspan>Orth. - LSS</tspan></text>
<line x1="151.7" y1="88.61" x2="177.8" y2="88.61" stroke="#d62728" stroke-width="1.45"/>
<text x="187.4" y="92.91" font-size="13.2"><tspan>M</tspan><tspan font-size="9.4" dy="2.6">min</tspan></text>
<line x1="151.7" y1="106.88" x2="177.8" y2="106.88" stroke="#9467bd" stroke-width="1.45"/>
<text x="187.4" y="111.18" font-size="13.2"><tspan>h</tspan></text>
<line x1="151.7" y1="125.15" x2="177.8" y2="125.15" stroke="#8c564b" stroke-width="1.45"/>
<text x="187.4" y="129.45" font-size="13.2"><tspan>n</tspan><tspan class="i" font-size="9.4" dy="2.6">s</tspan></text>
<line x1="151.7" y1="143.42" x2="177.8" y2="143.42" stroke="#e377c2" stroke-width="1.45"/>
<text x="187.4" y="147.72" font-size="13.2"><tspan>Ω</tspan><tspan class="i" font-size="9.4" dy="2.6">m</tspan></text>
<line x1="151.7" y1="161.69" x2="177.8" y2="161.69" stroke="#7f7f7f" stroke-width="1.45"/>
<text x="187.4" y="165.99" font-size="13.2"><tspan class="i">σ</tspan><tspan font-size="9.4" dy="2.6">8</tspan></text>
<g transform="translate(18.0,330.7) rotate(-90)"><text x="-0.6" y="0" font-size="16.4" class="i">σ</text><text x="10.0" y="0" font-size="16.4">(</text><text x="15.0" y="0" font-size="16.4" class="i" textLength="13.0" lengthAdjust="spacingAndGlyphs">N</text><text x="29.0" y="3.0" font-size="12.0" textLength="46.2" lengthAdjust="spacingAndGlyphs">cov Mat.</text><text x="78.6" y="0" font-size="16.4">)</text><text x="84.6" y="0" font-size="16.4">/</text><text x="90.2" y="0" font-size="16.4" class="i">σ</text><text x="101.7" y="0" font-size="16.4">(</text><text x="106.5" y="0" font-size="16.4" class="i" textLength="13.0" lengthAdjust="spacingAndGlyphs">N</text><text x="121.8" y="3.0" font-size="12.0" textLength="44.2" lengthAdjust="spacingAndGlyphs">cov Mat.</text><text x="174.2" y="0" font-size="16.4" textLength="11.8" lengthAdjust="spacingAndGlyphs">=</text><text x="191.0" y="0" font-size="16.4" textLength="51.5" lengthAdjust="spacingAndGlyphs">14500</text><text x="243.2" y="0" font-size="16.4">)</text></g>
<text x="348.5" y="453.6" font-size="16.4" class="i">N</text>
<text x="361.0" y="455.9" font-size="12.0" textLength="46.5" lengthAdjust="spacingAndGlyphs">cov Mat.</text>
</svg></body></html>
